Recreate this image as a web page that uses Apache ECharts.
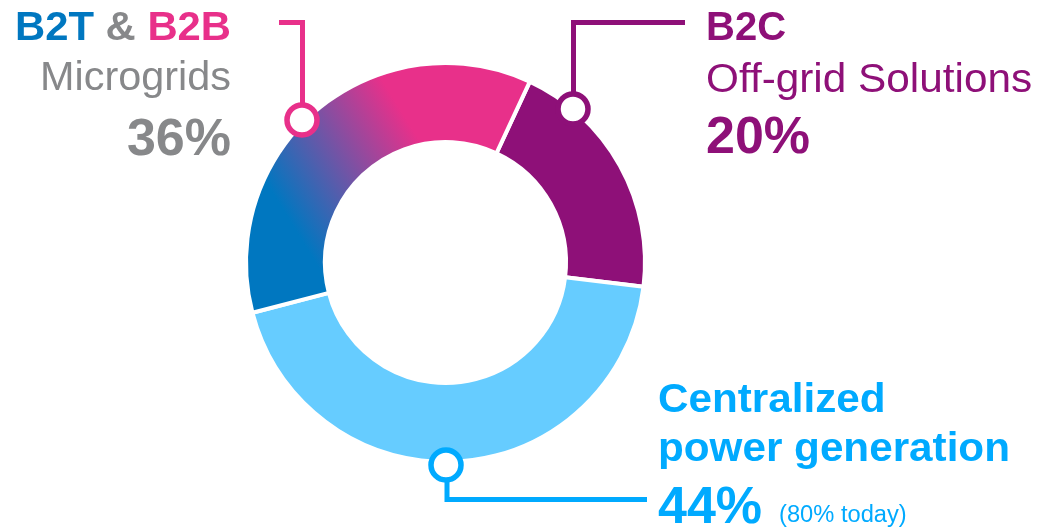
<!DOCTYPE html>
<html>
<head>
<meta charset="utf-8">
<script src="https://cdn.jsdelivr.net/npm/echarts@6/dist/echarts.min.js"></script>
<style>
  html, body { margin: 0; padding: 0; background: #ffffff; }
  #chart { width: 1039px; height: 530px; }
</style>
</head>
<body>
<div id="chart"></div>
<script>
// ---- data ----
const categories = ['B2C', 'Centralized power generation', 'B2T & B2B Microgrids'];
const values = [20, 44, 36];
const b2cLines = ['B2C', 'Off-grid Solutions'];
const centralLines = ['Centralized', 'power generation'];
const microHead = ['B2T', '&', 'B2B'];
const microSub = 'Microgrids';
const centralNote = '(80% today)';

// ---- colours ----
const BLUE = '#0077C0', PINK = '#E8308A', GRAY = '#87888A', PURPLE = '#8E1078', LIGHT = '#66CCFF', CYAN = '#00AAFF';
const FONT = 'Liberation Sans, Arial, Helvetica, sans-serif';

const chart = echarts.init(document.getElementById('chart'), null, { renderer: 'canvas' });

function txt(x, y, text, size, weight, fill, align, sx, extra) {
  return {
    type: 'text', x: x, y: y, z: 100, scaleX: sx || 1,
    style: Object.assign({
      text: text, fontSize: size, fontWeight: weight, fontFamily: FONT,
      fill: fill, align: align, verticalAlign: 'middle'
    }, extra || {})
  };
}
function mid(baseline, size) { return baseline - 0.31 * size; }

const pieData = [
  { name: categories[0], value: values[0], itemStyle: { color: PURPLE } },
  { name: categories[1], value: values[1], itemStyle: { color: LIGHT } },
  { name: categories[2], value: values[2], itemStyle: {
      color: { type: 'linear', x: 280, y: 205, x2: 410, y2: 125, global: true,
               colorStops: [{ offset: 0, color: BLUE }, { offset: 1, color: PINK }] } } }
];

const option = {
  backgroundColor: '#ffffff',
  animation: false,
  series: [{
    type: 'pie',
    center: [445.5, 262.5],
    radius: [120.5, 199.5],
    startAngle: 65,
    clockwise: true,
    silent: true,
    label: { show: false },
    labelLine: { show: false },
    itemStyle: { borderColor: '#ffffff', borderWidth: 4 },
    data: pieData
  }],
  graphic: [
    // leader lines
    { type: 'polyline', z: 90, shape: { points: [[279, 22.5], [302.5, 22.5], [302.5, 110]] },
      style: { stroke: PINK, lineWidth: 5, fill: null } },
    { type: 'circle', z: 95, shape: { cx: 302, cy: 120, r: 15 }, style: { stroke: PINK, lineWidth: 5.5, fill: '#fff' } },
    { type: 'polyline', z: 90, shape: { points: [[685, 22.5], [573.5, 22.5], [573.5, 100]] },
      style: { stroke: PURPLE, lineWidth: 5, fill: null } },
    { type: 'circle', z: 95, shape: { cx: 573, cy: 109, r: 15 }, style: { stroke: PURPLE, lineWidth: 5.5, fill: '#fff' } },
    { type: 'polyline', z: 90, shape: { points: [[447, 475], [447, 499.5], [647, 499.5]] },
      style: { stroke: CYAN, lineWidth: 5, fill: null } },
    { type: 'circle', z: 95, shape: { cx: 446, cy: 465, r: 15 }, style: { stroke: CYAN, lineWidth: 5.5, fill: '#fff' } },

    // left block
    txt(231, mid(41.7, 40), '{a|' + microHead[0] + '} {b|' + microHead[1] + '} {c|' + microHead[2] + '}', 40, 'bold', GRAY, 'right', 1.045, {
      rich: {
        a: { fontSize: 40, fontWeight: 'bold', fontFamily: FONT, fill: BLUE, color: BLUE },
        b: { fontSize: 40, fontWeight: 'bold', fontFamily: FONT, fill: GRAY, color: GRAY },
        c: { fontSize: 40, fontWeight: 'bold', fontFamily: FONT, fill: PINK, color: PINK }
      }
    }),
    txt(231, mid(91.7, 40), microSub, 40, 'normal', GRAY, 'right', 1.035),
    txt(231, mid(156.7, 52), values[2] + '%', 52, 'bold', GRAY, 'right', 1),

    // right block
    txt(706, mid(41.7, 40), b2cLines[0], 40, 'bold', PURPLE, 'left', 1.0),
    txt(706, mid(93.3, 41), b2cLines[1], 41, 'normal', PURPLE, 'left', 1.032),
    txt(706, mid(155, 52), values[0] + '%', 52, 'bold', PURPLE, 'left', 1),

    // bottom block
    txt(658, mid(413, 41), centralLines[0], 41, 'bold', CYAN, 'left', 1.03),
    txt(658, mid(462, 41), centralLines[1], 41, 'bold', CYAN, 'left', 1.03),
    txt(658, mid(525, 52), values[1] + '%', 52, 'bold', CYAN, 'left', 1),
    txt(779, mid(523, 23), centralNote, 23, 'normal', CYAN, 'left', 1.03)
  ]
};
chart.setOption(option);
</script>
</body>
</html>
